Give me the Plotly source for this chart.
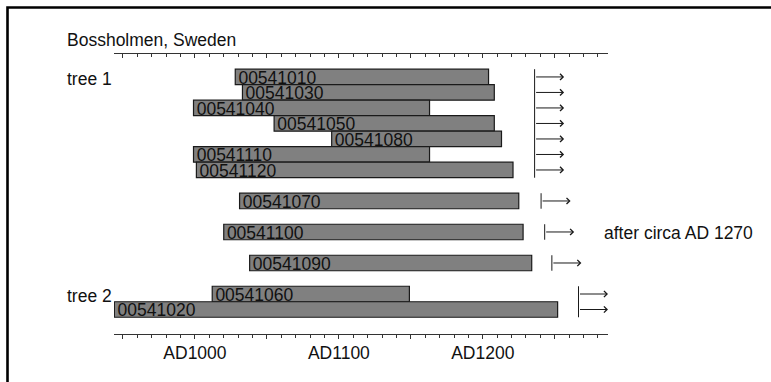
import plotly.graph_objects as go

# ---- data ----
samples = ['00541010', '00541030', '00541040', '00541050', '00541080', '00541110',
           '00541120', '00541070', '00541100', '00541090', '00541060', '00541020']
first_year = [1028, 1033, 999, 1055, 1095, 999, 1001, 1031, 1020, 1038, 1012, 944]
last_year = [1204, 1208, 1163, 1208, 1213, 1163, 1221, 1225, 1228, 1234, 1149, 1252]
row = [0, 1, 2, 3, 4, 5, 6, 8, 10, 12, 14, 15]

# felling-date arrows (groups of rows)
group_first_row = [0, 8, 10, 12, 14]
group_last_row = [6, 8, 10, 12, 15]
felling_after = [1236, 1240.5, 1243, 1248, 1266.5]
arrow_len = 20.5

tick_years = [950, 1000, 1050, 1100, 1150, 1200, 1250]
tick_text = ['', 'AD1000', '', 'AD1100', '', 'AD1200', '']

group_labels = ['tree 1', 'tree 2']
group_label_rows = [0, 14]
site_title = 'Bossholmen, Sweden'
date_note = 'after circa AD 1270'
date_note_row = 10
date_note_year = 1282.5

# ---- layout constants ----
W, H = 771, 382
ML, MR, MT, MB = 114, 163, 54, 48
PW, PH = W - ML - MR, H - MT - MB
XR = [943.75, 1287]
YR = [16.58, -1.48]
FONT = 'Liberation Sans, Arial, Helvetica, sans-serif'
FS = 17.5
TXT = '#111111'


def px_to_paper_x(px):
    return (px - ML) / PW


def px_to_paper_y(py):
    return (H - MB - py) / PH


fig = go.Figure()

fig.add_trace(go.Bar(
    orientation='h', y=row, base=first_year,
    x=[l - f for f, l in zip(first_year, last_year)],
    width=1, marker=dict(color='#808080', line=dict(color='#1a1a1a', width=1.2)),
    hoverinfo='skip', showlegend=False))

fig.add_trace(go.Scatter(
    x=[f + 2.2 for f in first_year], y=[r + 0.16 for r in row], text=samples,
    mode='text', textposition='middle right', cliponaxis=False,
    textfont=dict(family=FONT, size=FS, color=TXT), showlegend=False, hoverinfo='skip'))

vx, vy = [], []
for a, r0, r1 in zip(felling_after, group_first_row, group_last_row):
    vx += [a, a, None]
    vy += [r0 - 0.5, r1 + 0.5, None]
fig.add_trace(go.Scatter(x=vx, y=vy, mode='lines', line=dict(color='#1a1a1a', width=1),
                         showlegend=False, hoverinfo='skip', cliponaxis=False))

# invisible trace so that the top axis is drawn
fig.add_trace(go.Scatter(x=[XR[0]], y=[0], xaxis='x2', mode='markers',
                         marker=dict(opacity=0), showlegend=False, hoverinfo='skip'))

annotations = []
for a, r0, r1 in zip(felling_after, group_first_row, group_last_row):
    for r in range(r0, r1 + 1):
        annotations.append(dict(
            x=a + arrow_len, y=r, ax=a, ay=r, xref='x', yref='y', axref='x', ayref='y',
            text='', showarrow=True, arrowhead=4, arrowsize=1.2, arrowwidth=1,
            arrowcolor='#1a1a1a'))

for lab, r in zip(group_labels, group_label_rows):
    annotations.append(dict(x=px_to_paper_x(65), xref='paper', y=r + 0.14, yref='y',
                            text=lab, showarrow=False, xanchor='left', yanchor='middle',
                            font=dict(family=FONT, size=FS, color=TXT)))
annotations.append(dict(x=px_to_paper_x(65), xref='paper', y=px_to_paper_y(40), yref='paper',
                        text=site_title, showarrow=False, xanchor='left', yanchor='middle',
                        font=dict(family=FONT, size=FS, color=TXT)))
annotations.append(dict(x=date_note_year, xref='x', y=date_note_row + 0.08, yref='y',
                        text=date_note, showarrow=False, xanchor='left', yanchor='middle',
                        font=dict(family=FONT, size=FS, color=TXT)))

axis_common = dict(range=XR, showgrid=False, zeroline=False, showline=True,
                   linecolor='#333', linewidth=1.2, tickmode='array', tickvals=tick_years,
                   tickcolor='#333', tickwidth=1, ticklen=4,
                   minor=dict(dtick=10, tick0=0, ticklen=3, tickcolor='#333', tickwidth=1,
                              showgrid=False))

fig.update_layout(
    width=W, height=H, margin=dict(l=ML, r=MR, t=MT, b=MB, pad=0),
    paper_bgcolor='white', plot_bgcolor='white', showlegend=False,
    xaxis=dict(**axis_common, ticktext=tick_text, ticks='outside',
               minor_ticks='outside', ticklabelstandoff=-1,
               tickfont=dict(family=FONT, size=FS, color=TXT)),
    xaxis2=dict(**axis_common, overlaying='x', side='top', anchor='y', ticks='inside',
                minor_ticks='inside', showticklabels=False),
    yaxis=dict(range=YR, visible=False, showgrid=False, zeroline=False),
    annotations=annotations,
    shapes=[dict(type='rect', xref='paper', yref='paper',
                 x0=px_to_paper_x(7.5), x1=px_to_paper_x(W + 20),
                 y0=px_to_paper_y(H + 20), y1=px_to_paper_y(7.5),
                 line=dict(color='black', width=2.6), fillcolor='rgba(0,0,0,0)',
                 layer='above')],
)

fig.write_html('out.html', config={'displayModeBar': False},
               post_script="document.body.style.margin='0';")
